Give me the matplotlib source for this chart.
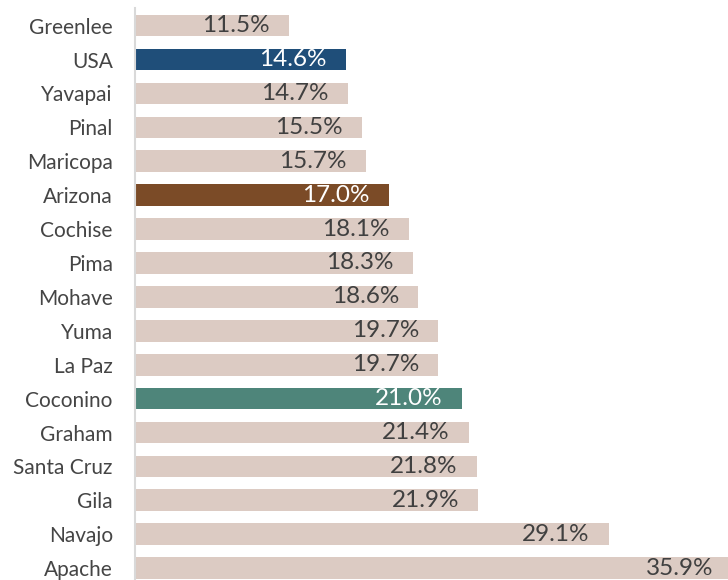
import matplotlib
matplotlib.use("Agg")
import matplotlib.pyplot as plt

counties = ["Greenlee", "USA", "Yavapai", "Pinal", "Maricopa", "Arizona", "Cochise",
            "Pima", "Mohave", "Yuma", "La Paz", "Coconino", "Graham", "Santa Cruz",
            "Gila", "Navajo", "Apache"]
values = [11.5, 14.6, 14.7, 15.5, 15.7, 17.0, 18.1, 18.3, 18.6, 19.7, 19.7,
          21.0, 21.4, 21.8, 21.9, 29.1, 35.9]

BASE = "#dccbc3"
highlight = {"USA": "#1f4e79", "Arizona": "#7b4b27", "Coconino": "#4e857a"}
colors = [highlight.get(c, BASE) for c in counties]

plt.rcParams["font.family"] = ["Lato", "DejaVu Sans"]

fig = plt.figure(figsize=(7.28, 5.8), dpi=100)
ax = fig.add_axes([135 / 728, 0, (728 - 135) / 728, (580 - 8) / 580])

y = list(range(len(counties)))
ax.barh(y, values, height=0.64, color=colors, left=0)
ax.set_xlim(3.0, 35.64)
ax.set_ylim(16.35, -0.52)

for i, (c, v) in enumerate(zip(counties, values)):
    tc = "white" if c in highlight else "#404040"
    ax.annotate(f"{v:.1f}%", xy=(v, i), xytext=(-14, 0), textcoords="offset points",
                ha="right", va="center", fontsize=17.5, color=tc, annotation_clip=False)

ax.set_yticks(y)
ax.set_yticklabels(counties, fontsize=15, color="#454545")
ax.tick_params(axis="y", length=0, pad=16)
ax.set_xticks([])
for s in ["top", "right", "bottom"]:
    ax.spines[s].set_visible(False)
ax.spines["left"].set_color("#d9d9d9")
ax.spines["left"].set_linewidth(1.5)

fig.savefig("out.png", dpi=100)
